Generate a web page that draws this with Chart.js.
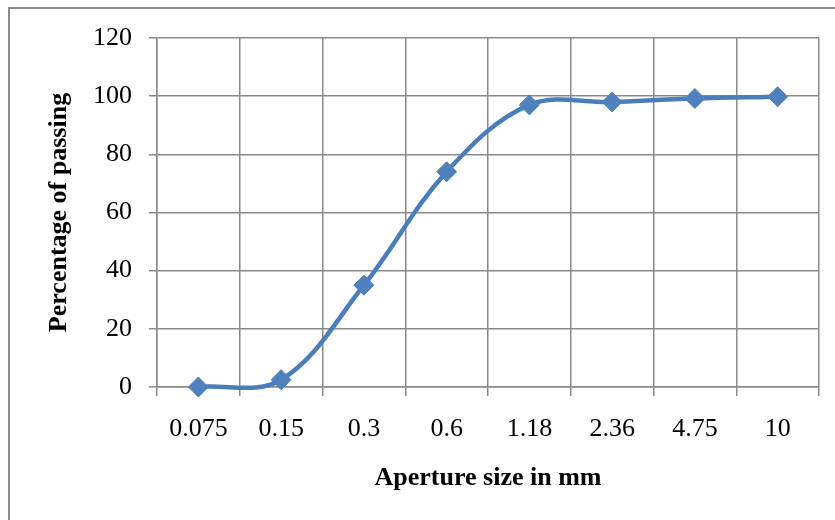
<!DOCTYPE html>
<html>
<head>
<meta charset="utf-8">
<script src="https://cdn.jsdelivr.net/npm/chart.js@4.4.1/dist/chart.umd.min.js"></script>
<style>
  html, body { margin: 0; padding: 0; background: #fff; }
  #wrap { position: relative; width: 835px; height: 520px; }
  canvas { display: block; }
</style>
</head>
<body>
<div id="wrap"><canvas id="c" width="835" height="520"></canvas></div>
<script>
const categories = ['0.075', '0.15', '0.3', '0.6', '1.18', '2.36', '4.75', '10'];
const passing = [0, 2.5, 35, 74, 97, 98, 99.2, 99.8];
const yTicks = [0, 20, 40, 60, 80, 100, 120];

const frame = {
  id: 'frame',
  beforeDraw(chart) {
    const ctx = chart.ctx;
    ctx.save();
    ctx.fillStyle = '#ffffff';
    ctx.fillRect(0, 0, chart.width, chart.height);
    ctx.strokeStyle = '#8c8c8c';
    ctx.lineWidth = 2;
    ctx.beginPath();
    ctx.moveTo(9, chart.height + 5);
    ctx.lineTo(9, 8);
    ctx.lineTo(chart.width + 5, 8);
    ctx.stroke();
    ctx.restore();
  }
};

const gridColor = '#8a8a8a';
const tickFont = { family: 'Liberation Serif', size: 26 };
const titleFont = { family: 'Liberation Serif', size: 26, weight: 'bold' };

new Chart(document.getElementById('c'), {
  type: 'line',
  data: {
    labels: categories,
    datasets: [{
      data: passing,
      borderColor: '#4A7EBB',
      backgroundColor: '#4F81BD',
      borderWidth: 4.5,
      tension: 0.36,
      pointStyle: 'rectRot',
      pointRadius: 10,
      pointBorderWidth: 1,
      pointBorderColor: '#4F81BD',
      pointBackgroundColor: '#4F81BD',
      clip: false,
      fill: false
    }]
  },
  options: {
    responsive: false,
    animation: false,
    devicePixelRatio: 1,
    elements: { line: { capBezierPoints: false } },
    layout: { padding: { top: 38, right: 16, left: 0, bottom: 0 } },
    plugins: { legend: { display: false }, tooltip: { enabled: false } },
    scales: {
      x: {
        type: 'category',
        offset: true,
        grid: { offset: true, color: gridColor, lineWidth: 1.5, tickLength: 9, drawTicks: true },
        border: { color: gridColor, width: 1.5 },
        ticks: { font: tickFont, color: '#000', padding: 18, maxRotation: 0 },
        title: { display: true, text: 'Aperture size in mm', font: titleFont, color: '#000', padding: { top: 0, bottom: 26 } },
        afterFit(scale) { scale.height = 133; }
      },
      y: {
        min: 0,
        max: 120,
        afterBuildTicks(scale) { scale.ticks = yTicks.map(v => ({ value: v })); },
        grid: { color: gridColor, lineWidth: 1.5, tickLength: 8 },
        border: { color: gridColor, width: 1.5 },
        ticks: { font: tickFont, color: '#000', padding: 17 },
        title: { display: true, text: 'Percentage of passing', font: titleFont, color: '#000', padding: { top: 44, bottom: 0 } },
        afterFit(scale) { scale.width = 157; }
      }
    }
  },
  plugins: [frame]
});
</script>
</body>
</html>
